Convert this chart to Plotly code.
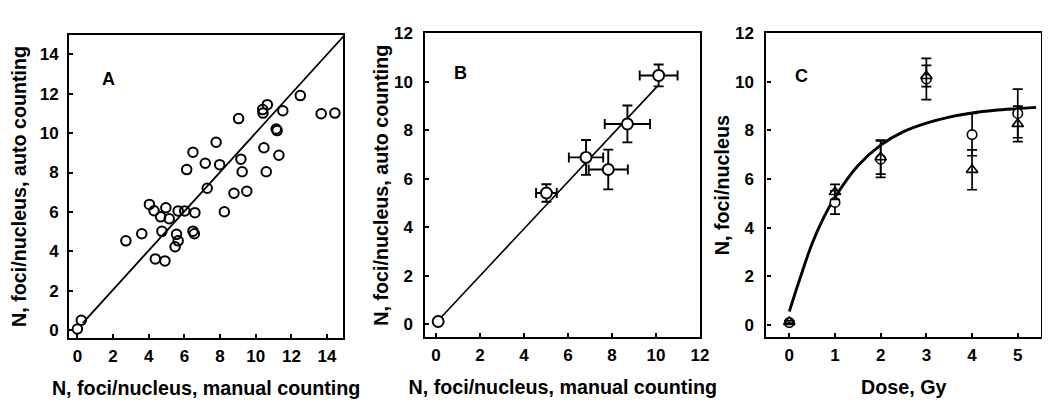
import plotly.graph_objects as go

# ---------------- Panel A data (manual vs auto counting, individual nuclei)
a_manual = [0.0, 0.22, 2.72, 3.61, 4.04, 4.30, 4.67, 4.96, 5.15, 4.74, 4.37, 4.91,
            5.65, 6.02, 5.56, 5.65, 5.48, 6.48, 6.56, 6.59, 6.13, 6.48, 7.17, 7.28,
            7.78, 7.98, 8.24, 8.78, 9.24, 9.50, 9.04, 9.17, 10.39, 10.41, 10.65,
            10.46, 10.59, 11.52, 11.15, 11.20, 11.30, 12.50, 13.67, 14.44]
a_auto = [0.05, 0.49, 4.53, 4.89, 6.38, 6.06, 5.75, 6.21, 5.65, 5.01, 3.61, 3.51,
          6.05, 6.05, 4.86, 4.53, 4.23, 5.02, 4.89, 5.96, 8.15, 9.03, 8.47, 7.20,
          9.54, 8.40, 6.01, 6.95, 8.04, 7.05, 10.74, 8.68, 11.20, 11.02, 11.45,
          9.26, 8.04, 11.14, 10.21, 10.13, 8.88, 11.91, 10.99, 11.02]
a_line_x = [0.3, 15.0]
a_line_y = [0.35, 15.0]

# ---------------- Panel B data (mean +/- error)
b_manual = [0.10, 5.02, 6.82, 7.83, 8.70, 10.12]
b_manual_err = [0.0, 0.47, 0.78, 0.89, 1.03, 0.86]
b_auto = [0.11, 5.41, 6.88, 6.38, 8.26, 10.26]
b_auto_err = [0.0, 0.36, 0.72, 0.82, 0.76, 0.45]
b_line_x = [0.1, 10.1]
b_line_y = [0.15, 9.85]

# ---------------- Panel C data (dose response)
c_dose = [0, 1, 2, 3, 4, 5]
c_circle = [0.10, 5.04, 6.82, 10.12, 7.83, 8.70]
c_circle_err = [0.05, 0.48, 0.75, 0.85, 0.87, 1.00]
c_triangle = [0.12, 5.47, 6.90, 10.24, 6.38, 8.27]
c_triangle_err = [0.05, 0.31, 0.70, 0.44, 0.82, 0.73]
c_curve_x = [0.0, 0.25, 0.5, 0.75, 1.0, 1.5, 2.0, 2.5, 3.0, 3.5, 4.0, 4.5, 5.0, 5.4]
c_curve_y = [0.55, 2.0, 3.35, 4.4, 5.25, 6.55, 7.40, 7.95, 8.30, 8.55, 8.72, 8.83, 8.90, 8.95]

FONT = "Liberation Sans, Arial, sans-serif"
W, H = 1050, 404

fig = go.Figure()

# Panel A
fig.add_trace(go.Scatter(x=a_line_x, y=a_line_y, mode="lines",
                         line=dict(color="black", width=1.8),
                         xaxis="x", yaxis="y", hoverinfo="skip"))
fig.add_trace(go.Scatter(x=a_manual, y=a_auto, mode="markers",
                         marker=dict(symbol="circle-open", size=9.5, color="black",
                                     line=dict(color="black", width=2)),
                         xaxis="x", yaxis="y"))

# Panel B
fig.add_trace(go.Scatter(x=b_line_x, y=b_line_y, mode="lines",
                         line=dict(color="black", width=1.6),
                         xaxis="x2", yaxis="y2", hoverinfo="skip"))
fig.add_trace(go.Scatter(x=b_manual, y=b_auto, mode="markers",
                         marker=dict(symbol="circle", size=11, color="white",
                                     line=dict(color="black", width=1.9)),
                         error_x=dict(type="data", array=b_manual_err, color="black",
                                      thickness=1.9, width=5),
                         error_y=dict(type="data", array=b_auto_err, color="black",
                                      thickness=1.9, width=5),
                         xaxis="x2", yaxis="y2"))

# Panel C
fig.add_trace(go.Scatter(x=c_curve_x, y=c_curve_y, mode="lines",
                         line=dict(color="black", width=2.9, shape="spline", smoothing=1.0),
                         xaxis="x3", yaxis="y3", hoverinfo="skip"))
fig.add_trace(go.Scatter(x=c_dose, y=c_circle, mode="markers",
                         marker=dict(symbol="circle", size=9.5, color="white",
                                     line=dict(color="black", width=1.6)),
                         error_y=dict(type="data", array=c_circle_err, color="black",
                                      thickness=1.7, width=5),
                         xaxis="x3", yaxis="y3"))
fig.add_trace(go.Scatter(x=c_dose, y=c_triangle, mode="markers",
                         marker=dict(symbol="triangle-up", size=10, color="rgba(255,255,255,0)",
                                     line=dict(color="black", width=1.6)),
                         error_y=dict(type="data", array=c_triangle_err, color="black",
                                      thickness=1.7, width=5),
                         xaxis="x3", yaxis="y3"))


def px_dom_x(a, b):
    return [a / W, b / W]


def px_dom_y(top, bottom):
    return [1 - bottom / H, 1 - top / H]


axis_common = dict(showline=True, mirror=True, linecolor="black", linewidth=2.2,
                   ticks="inside", ticklen=4, tickwidth=1.5, tickcolor="black",
                   showgrid=False, zeroline=False,
                   tickfont=dict(family=FONT, size=17, color="black", weight="bold"))
title_font = dict(family=FONT, size=19.7, color="black", weight="bold")

fig.update_layout(
    width=W, height=H, margin=dict(l=0, r=0, t=0, b=0),
    paper_bgcolor="white", plot_bgcolor="white", showlegend=False,
    font=dict(family=FONT, color="black"),
    xaxis=dict(domain=px_dom_x(61.7, 338), range=[-0.46, 14.9], tick0=0, dtick=2,
               anchor="y", ticklabelstandoff=1,
               title=dict(text="N, foci/nucleus, manual counting", font=title_font, standoff=17),
               **axis_common),
    yaxis=dict(domain=px_dom_y(18.3, 330), range=[-0.41, 15.0], tick0=0, dtick=2,
               anchor="x", ticklabelstandoff=5,
               title=dict(text="N, foci/nucleus, auto counting", font=title_font, standoff=8),
               **axis_common),
    xaxis2=dict(domain=px_dom_x(421, 698), range=[-0.48, 12.0], tick0=0, dtick=2,
                anchor="y2", ticklabelstandoff=1,
                title=dict(text="N, foci/nucleus, manual counting", font=title_font, standoff=17),
                **axis_common),
    yaxis2=dict(domain=px_dom_y(16.7, 329), range=[-0.53, 12.0], tick0=0, dtick=2,
                anchor="x2", ticklabelstandoff=7,
                title=dict(text="N, foci/nucleus, auto counting", font=title_font, standoff=0),
                **axis_common),
    xaxis3=dict(domain=px_dom_x(765, 1042), range=[-0.5, 5.51], tick0=0, dtick=1,
                anchor="y3", ticklabelstandoff=1,
                title=dict(text="Dose, Gy", font=title_font, standoff=17),
                **axis_common),
    yaxis3=dict(domain=px_dom_y(16.7, 329), range=[-0.5, 12.0], tick0=0, dtick=2,
                anchor="x3", ticklabelstandoff=7,
                title=dict(text="N, foci/nucleus", font=title_font, standoff=0),
                **axis_common),
    annotations=[
        dict(text="A", xref="x domain", yref="y domain", x=0.112, y=0.893,
             showarrow=False, font=dict(family=FONT, size=18, color="black", weight="bold")),
        dict(text="B", xref="x2 domain", yref="y2 domain", x=0.096, y=0.909,
             showarrow=False, font=dict(family=FONT, size=18, color="black", weight="bold")),
        dict(text="C", xref="x3 domain", yref="y3 domain", x=0.096, y=0.900,
             showarrow=False, font=dict(family=FONT, size=18, color="black", weight="bold")),
    ],
)

fig.write_html("out.html")
